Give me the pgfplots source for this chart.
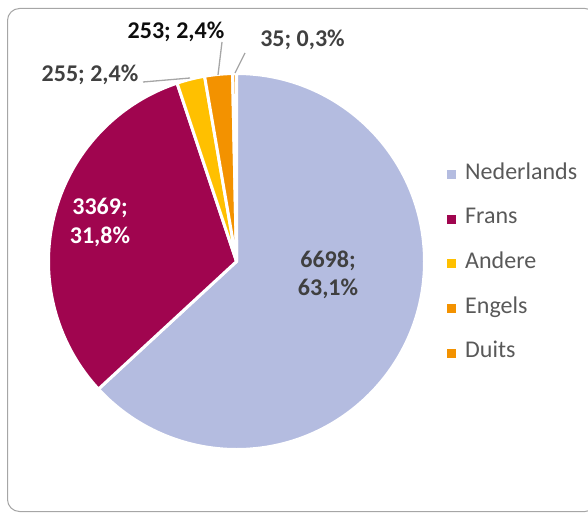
\documentclass[border=0pt]{standalone}
\usepackage{pgfplots}
\pgfplotsset{compat=1.18}
\usepackage{pgfplotstable}
\usepackage{fontspec}
\setmainfont{Carlito}
\definecolor{cNed}{HTML}{B4BCE0}
\definecolor{cFra}{HTML}{A0054F}
\definecolor{cAnd}{HTML}{FFC000}
\definecolor{cEng}{HTML}{F39200}
\definecolor{cDui}{HTML}{F39200}
\definecolor{lbl}{HTML}{404040}
\definecolor{legtxt}{HTML}{595959}
\definecolor{frame}{HTML}{A6A6A6}

\pgfplotstableread{
label value
Nederlands 6698
Frans 3369
Andere 255
Engels 253
Duits 35
}\piedata

\begin{document}
\begin{tikzpicture}
\pgfplotstablegetelem{0}{value}\of\piedata \edef\vA{\pgfplotsretval}
\pgfplotstablegetelem{1}{value}\of\piedata \edef\vB{\pgfplotsretval}
\pgfplotstablegetelem{2}{value}\of\piedata \edef\vC{\pgfplotsretval}
\pgfplotstablegetelem{3}{value}\of\piedata \edef\vD{\pgfplotsretval}
\pgfplotstablegetelem{4}{value}\of\piedata \edef\vE{\pgfplotsretval}
\pgfmathsetmacro\tot{\vA+\vB+\vC+\vD+\vE}
\pgfmathsetmacro\aA{90-360*(\vA/\tot)}
\pgfmathsetmacro\aB{\aA-360*(\vB/\tot)}
\pgfmathsetmacro\aC{\aB-360*(\vC/\tot)}
\pgfmathsetmacro\aD{\aC-360*(\vD/\tot)}
\pgfmathsetmacro\aE{\aD-360*(\vE/\tot)}
\def\R{188bp}
\begin{axis}[hide axis, scale only axis, width=588bp, height=513bp,
  xmin=0, xmax=588, ymin=0, ymax=513, y dir=reverse, clip=false]
% frame
\draw[frame, line width=1bp, rounded corners=12bp] (axis cs:7.5,8.5) rectangle (axis cs:597,511.5);
% wedges
\filldraw[fill=cNed, draw=white, line width=3bp, line join=round] (axis cs:236.5,261.5) -- ++(90:\R) arc[start angle=90, end angle=\aA, radius=\R] -- cycle;
\filldraw[fill=cFra, draw=white, line width=3bp, line join=round] (axis cs:236.5,261.5) -- ++(\aA:\R) arc[start angle=\aA, end angle=\aB, radius=\R] -- cycle;
\filldraw[fill=cAnd, draw=white, line width=3bp, line join=round] (axis cs:236.5,261.5) -- ++(\aB:\R) arc[start angle=\aB, end angle=\aC, radius=\R] -- cycle;
\filldraw[fill=cEng, draw=white, line width=3bp, line join=round] (axis cs:236.5,261.5) -- ++(\aC:\R) arc[start angle=\aC, end angle=\aD, radius=\R] -- cycle;
\filldraw[fill=cDui, draw=white, line width=3bp, line join=round] (axis cs:236.5,261.5) -- ++(\aD:\R) arc[start angle=\aD, end angle=\aE, radius=\R] -- cycle;
% leader lines
\draw[frame, line width=1.3bp] (axis cs:143,82) -- (axis cs:190,78);
\draw[frame, line width=1.3bp] (axis cs:222,42) -- (axis cs:218,75);
\draw[frame, line width=1.3bp] (axis cs:245,53) -- (axis cs:235,73);
% labels
\tikzset{lab/.style={font=\bfseries\fontsize{24bp}{29bp}\selectfont, inner sep=0pt, anchor=base}}
\node[lab, text=lbl] at (axis cs:328,267) {6698;};
\node[lab, text=lbl] at (axis cs:328,295) {63,1\%};
\node[lab, text=white] at (axis cs:100,214) {3369;};
\node[lab, text=white] at (axis cs:100,243) {31,8\%};
\node[lab, text=lbl] at (axis cs:90,82) {255; 2,4\%};
\node[lab, text=black!95] at (axis cs:176,39) {253; 2,4\%};
\node[lab, text=lbl] at (axis cs:302.5,47) {35; 0,3\%};
% legend
\tikzset{legt/.style={font=\fontsize{24bp}{29bp}\selectfont, text=legtxt, inner sep=0pt, anchor=base west}}
\fill[cNed] (axis cs:447,170) rectangle (axis cs:456,179);
\node[legt] at (axis cs:465,179) {Nederlands};
\fill[cFra] (axis cs:447,214.7) rectangle (axis cs:456,223.7);
\node[legt] at (axis cs:465,223.7) {Frans};
\fill[cAnd] (axis cs:447,259.4) rectangle (axis cs:456,268.4);
\node[legt] at (axis cs:465,268.4) {Andere};
\fill[cEng] (axis cs:447,304.1) rectangle (axis cs:456,313.1);
\node[legt] at (axis cs:465,313.1) {Engels};
\fill[cDui] (axis cs:447,348.8) rectangle (axis cs:456,357.8);
\node[legt] at (axis cs:465,357.8) {Duits};
\end{axis}
\pgfresetboundingbox
\useasboundingbox (0,0) rectangle (588bp,513bp);
\end{tikzpicture}
\end{document}
